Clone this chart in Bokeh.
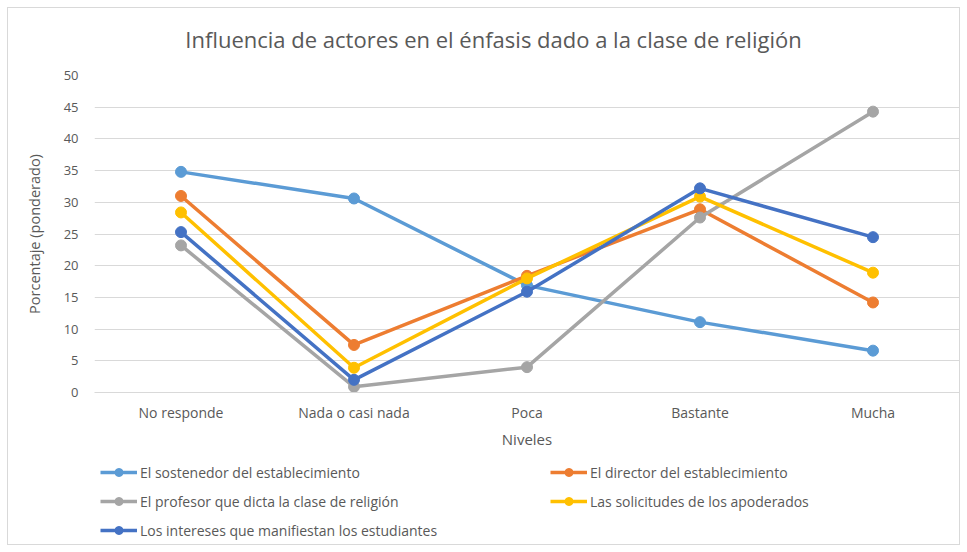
from bokeh.plotting import figure
from bokeh.models import Legend, LegendItem, FactorRange, Range1d, SingleIntervalTicker, Label
from bokeh.layouts import column
from bokeh.embed import file_html
from bokeh.resources import INLINE

niveles = ["No responde", "Nada o casi nada", "Poca", "Bastante", "Mucha"]
sostenedor = [34.8, 30.6, 16.9, 11.1, 6.6]
director = [31.0, 7.5, 18.4, 28.9, 14.2]
profesor = [23.2, 0.9, 4.0, 27.6, 44.3]
apoderados = [28.4, 3.9, 18.0, 30.9, 18.9]
estudiantes = [25.3, 2.0, 15.9, 32.2, 24.5]

series = [
    ("El sostenedor del establecimiento", sostenedor, "#5B9BD5"),
    ("El director del establecimiento", director, "#ED7D31"),
    ("El profesor que dicta la clase de religión", profesor, "#A5A5A5"),
    ("Las solicitudes de los apoderados", apoderados, "#FFC000"),
    ("Los intereses que manifiestan los estudiantes", estudiantes, "#4472C4"),
]
titulo = "Influencia de actores en el énfasis dado a la clase de religión"

FONT = "Open Sans"
TXT = "#595959"


def blank(height):
    f = figure(
        width=951, height=height, x_range=Range1d(0, 1), y_range=Range1d(0, 1),
        output_backend="svg", toolbar_location=None,
        min_border_left=0, min_border_right=0, min_border_top=0, min_border_bottom=0,
        x_axis_type=None, y_axis_type=None,
    )
    f.outline_line_color = None
    f.grid.grid_line_color = None
    return f


# title strip
tf = blank(55)
tf.add_layout(Label(
    x=399, y=25, x_units="screen", y_units="screen", text=titulo,
    text_align="center", text_baseline="middle",
    text_font=FONT, text_font_size="22px", text_color=TXT,
))

# main chart
p = figure(
    width=951, height=393,
    x_range=FactorRange(*niveles, range_padding=0),
    y_range=Range1d(0, 50),
    output_backend="svg", toolbar_location=None,
    min_border_left=86, min_border_right=0, min_border_top=12, min_border_bottom=64,
)
p.outline_line_color = None

p.xgrid.grid_line_color = None
p.ygrid.grid_line_color = "#D9D9D9"
p.ygrid.grid_line_width = 1

p.yaxis.ticker = SingleIntervalTicker(interval=5)
p.yaxis.axis_line_color = None
p.yaxis.major_tick_line_color = None
p.yaxis.minor_tick_line_color = None
p.yaxis.major_label_standoff = 10
p.yaxis.major_label_text_font = FONT
p.yaxis.major_label_text_font_size = "13px"
p.yaxis.major_label_text_color = TXT
p.yaxis.axis_label = "Porcentaje (ponderado)"
p.yaxis.axis_label_text_font = FONT
p.yaxis.axis_label_text_font_style = "normal"
p.yaxis.axis_label_text_font_size = "14.5px"
p.yaxis.axis_label_text_color = TXT
p.yaxis.axis_label_standoff = 17

p.xaxis.axis_line_color = "#D9D9D9"
p.xaxis.major_tick_line_color = None
p.xaxis.minor_tick_line_color = None
p.xaxis.major_label_standoff = 4
p.xaxis.major_label_text_font = FONT
p.xaxis.major_label_text_font_size = "14px"
p.xaxis.major_label_text_color = TXT
p.xaxis.axis_label = "Niveles"
p.xaxis.axis_label_text_font = FONT
p.xaxis.axis_label_text_font_style = "normal"
p.xaxis.axis_label_text_font_size = "15px"
p.xaxis.axis_label_text_color = TXT
p.xaxis.axis_label_standoff = 4

for name, vals, color in series:
    p.line(niveles, vals, line_color=color, line_width=3.5)
    p.scatter(niveles, vals, size=11, fill_color=color, line_color=color)

# legend strip under the chart
lg = blank(88)
items = []
for name, vals, color in series:
    # off-range proxy glyphs, only used for the legend swatches
    r1 = lg.line([5, 6], [5, 6], line_color=color, line_width=3.5)
    r2 = lg.scatter([5, 6], [5, 6], size=11, fill_color=color, line_color=color)
    items.append(LegendItem(label=name, renderers=[r1, r2]))

# column-major fill: first column holds items 0, 2, 4; second holds 1, 3
ordered = [items[0], items[2], items[4], items[1], items[3]]

legend = Legend(
    items=ordered, nrows=3, location=(6, 4),
    label_text_font=FONT, label_text_font_size="14px", label_text_color=TXT,
    glyph_width=37, glyph_height=20, label_standoff=3, label_width=401,
    spacing=9, padding=0, margin=0, border_line_color=None,
    background_fill_alpha=0,
)
lg.add_layout(legend)

layout = column(tf, p, lg, spacing=0,
                styles={"margin-left": "8px", "margin-top": "8px",
                        "outline": "1px solid #D9D9D9"})

open("out.html", "w").write(file_html(layout, INLINE))
